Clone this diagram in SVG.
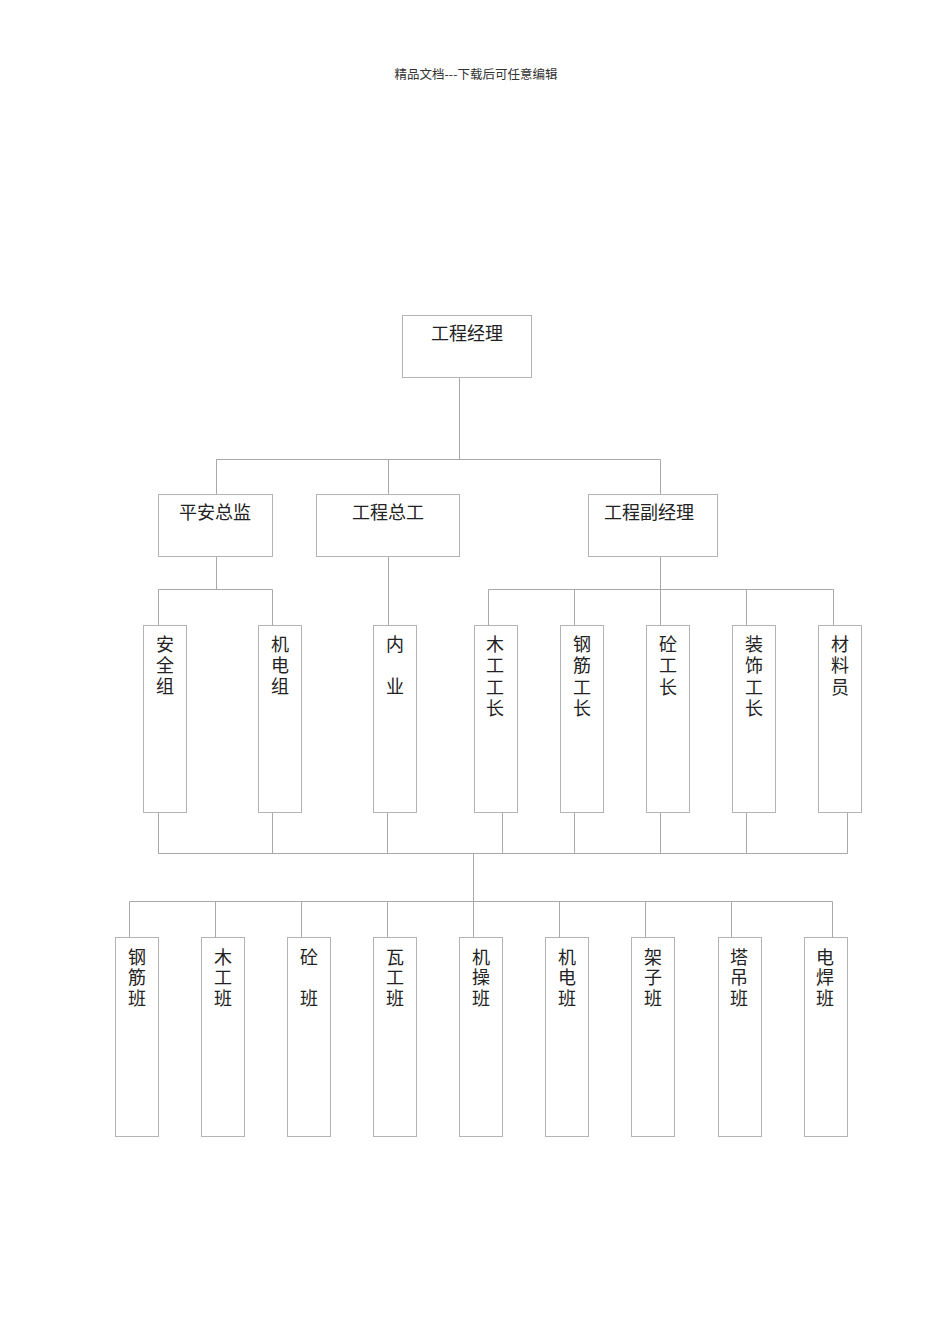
<svg xmlns="http://www.w3.org/2000/svg" width="950" height="1344" viewBox="0 0 950 1344">
<style>
.box{fill:#fff;stroke:#b4b4b4;stroke-width:1}
.ln{fill:none;stroke:#a8a8a8;stroke-width:1}
.t{font-family:"Noto Sans CJK SC","Liberation Serif",serif;font-size:18px;fill:#222;text-anchor:middle}
.v{font-family:"Noto Sans CJK SC","Liberation Serif",serif;font-size:18px;fill:#222;writing-mode:vertical-rl;text-anchor:start;letter-spacing:3px}
.v4{letter-spacing:3.5px}
.vb{letter-spacing:2.5px}
.hd{font-family:"Noto Sans CJK SC","Liberation Sans",sans-serif;font-size:12.5px;fill:#333;text-anchor:middle}
</style>
<rect width="950" height="1344" fill="#fff"/>
<text class="hd" x="476" y="79">精品文档---下载后可任意编辑</text>

<g id="connectors">
<path class="ln" d="M459.5 377V460M216.5 459.5H660.5M216.5 459.5V494M388.5 459.5V494M660.5 459.5V494"/>
<path class="ln" d="M216.5 556V589.5M158.5 589.5H272.5M158.5 589.5V625M272.5 589.5V625"/>
<path class="ln" d="M388.5 556V625"/>
<path class="ln" d="M660.5 556V589.5M488.5 589.5H833.5M488.5 589.5V625M574.5 589.5V625M660.5 589.5V625M746.5 589.5V625M833.5 589.5V625"/>
<path class="ln" d="M158.5 805V853.5M272.5 805V853.5M387.5 805V853.5M502.5 805V853.5M574.5 805V853.5M660.5 805V853.5M746.5 805V853.5M847.5 805V853.5M158.5 853.5H847.5"/>
<path class="ln" d="M473.5 853.5V901.5M129.5 901.5H832.5M129.5 901.5V937M215.5 901.5V937M301.5 901.5V937M387.5 901.5V937M473.5 901.5V937M559.5 901.5V937M645.5 901.5V937M731.5 901.5V937M832.5 901.5V937"/>
</g>

<g id="n-manager"><rect class="box" x="402.5" y="315.5" width="129" height="62"/><text class="t" x="467" y="340">工程经理</text></g>
<g id="n-safety"><rect class="box" x="158.5" y="494.5" width="114" height="62"/><text class="t" x="215" y="519">平安总监</text></g>
<g id="n-chief"><rect class="box" x="316.5" y="494.5" width="143" height="62"/><text class="t" x="388" y="519">工程总工</text></g>
<g id="n-deputy"><rect class="box" x="588.5" y="494.5" width="129" height="62"/><text class="t" x="649" y="519">工程副经理</text></g>

<g id="n-anquan"><rect class="box" x="143.5" y="625.5" width="43" height="187"/><text class="v" x="165" y="635">安全组</text></g>
<g id="n-jidianzu"><rect class="box" x="258.5" y="625.5" width="43" height="187"/><text class="v" x="280" y="635">机电组</text></g>
<g id="n-neiye"><rect class="box" x="373.5" y="625.5" width="43" height="187"/><text class="v" x="395" y="635">内　业</text></g>
<g id="n-mugong"><rect class="box" x="474.5" y="625.5" width="43" height="187"/><text class="v v4" x="495" y="635">木工工长</text></g>
<g id="n-gangjin"><rect class="box" x="560.5" y="625.5" width="43" height="187"/><text class="v v4" x="582" y="635">钢筋工长</text></g>
<g id="n-tong"><rect class="box" x="646.5" y="625.5" width="43" height="187"/><text class="v v4" x="668" y="635">砼工长</text></g>
<g id="n-zhuangshi"><rect class="box" x="732.5" y="625.5" width="43" height="187"/><text class="v v4" x="754" y="635">装饰工长</text></g>
<g id="n-cailiao"><rect class="box" x="818.5" y="625.5" width="43" height="187"/><text class="v v4" x="840" y="635">材料员</text></g>

<g id="b-gangjin"><rect class="box" x="115.5" y="937.5" width="43" height="199"/><text class="v vb" x="137" y="948">钢筋班</text></g>
<g id="b-mugong"><rect class="box" x="201.5" y="937.5" width="43" height="199"/><text class="v vb" x="223" y="948">木工班</text></g>
<g id="b-tong"><rect class="box" x="287.5" y="937.5" width="43" height="199"/><text class="v vb" x="309" y="948">砼　班</text></g>
<g id="b-wagong"><rect class="box" x="373.5" y="937.5" width="43" height="199"/><text class="v vb" x="395" y="948">瓦工班</text></g>
<g id="b-jicao"><rect class="box" x="459.5" y="937.5" width="43" height="199"/><text class="v vb" x="481" y="948">机操班</text></g>
<g id="b-jidian"><rect class="box" x="545.5" y="937.5" width="43" height="199"/><text class="v vb" x="567" y="948">机电班</text></g>
<g id="b-jiazi"><rect class="box" x="631.5" y="937.5" width="43" height="199"/><text class="v vb" x="653" y="948">架子班</text></g>
<g id="b-tadiao"><rect class="box" x="718.5" y="937.5" width="43" height="199"/><text class="v vb" x="739" y="948">塔吊班</text></g>
<g id="b-dianhan"><rect class="box" x="804.5" y="937.5" width="43" height="199"/><text class="v vb" x="825" y="948">电焊班</text></g>
</svg>
